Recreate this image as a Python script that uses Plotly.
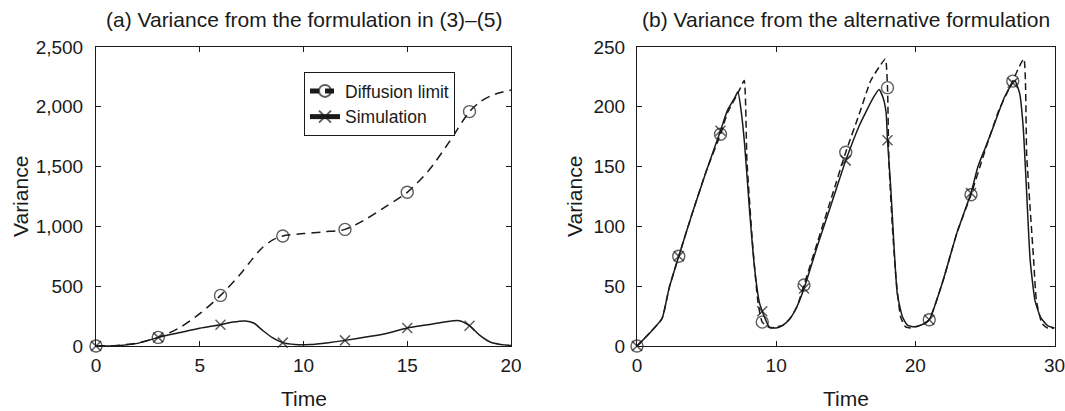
import plotly.graph_objects as go

# ---------------- data: panel (a) ----------------
mark_times_a = [0, 3, 6, 9, 12, 15, 18]

t_diff_a = [0, 1, 2, 3, 4, 5, 6, 7, 7.5, 8, 8.5, 9, 10, 11, 12, 13, 14, 15, 16, 17, 18, 18.5, 19, 19.5, 20]
v_diff_a = [0, 5, 25, 72, 150, 270, 423, 610, 720, 820, 885, 920, 940, 955, 975, 1060, 1170, 1285, 1460, 1700, 1960, 2040, 2090, 2120, 2140]

t_sim_a = [0, 1, 2, 3, 4, 5, 6, 6.6, 7.2, 7.6, 8, 8.5, 9, 9.6, 10.3, 11.2, 12, 13, 14, 15, 16, 16.8, 17.5, 18, 18.5, 19, 19.5, 20]
v_sim_a = [0, 3, 22, 72, 110, 148, 178, 200, 209, 192, 135, 70, 28, 12, 12, 28, 47, 75, 105, 150, 178, 200, 212, 170, 89, 33, 12, 5]

# ---------------- data: panel (b) ----------------
mark_times_b = [0, 3, 6, 9, 12, 15, 18, 21, 24, 27]

t_diff_b = [0, 1, 1.8, 2.3, 3, 4, 5, 6, 6.5, 7, 7.4, 7.7, 7.9, 8.3, 8.7, 9, 9.6, 10, 10.5, 11, 11.5, 12,
            13, 14, 15, 16, 16.8, 17.5, 17.85, 18, 18.1, 18.35, 18.6, 18.95, 19.3, 19.8, 20, 20.5, 21,
            22, 23, 24, 25, 26, 27, 27.4, 27.8, 28, 28.25, 28.5, 28.7, 29.1, 29.5, 30]
v_diff_b = [0, 12, 23, 48, 75, 112, 147, 177, 195, 206, 215, 222, 155, 86, 36, 20, 15, 16, 17.5, 23, 33, 51,
            88, 125, 162, 195, 222, 235, 240, 216, 155, 100, 58, 24, 16, 15, 16, 18, 22,
            55, 95, 126.5, 163, 197, 221.5, 232, 240, 160, 115, 72, 38, 19, 15, 15]

t_sim_b = [0, 1, 1.8, 2.3, 3, 4, 5, 6, 6.5, 7, 7.25, 7.5, 7.73, 8.09, 8.44, 8.8, 9, 9.5, 10, 10.5, 11, 11.5, 12,
           13, 14, 15, 16, 17, 17.4, 17.7, 17.9, 18, 18.23, 18.47, 18.7, 19.07, 19.43, 19.9, 20.4, 21,
           22, 22.5, 23, 24, 24.5, 25, 25.6, 26.4, 27, 27.15, 27.5, 27.75, 28, 28.25, 28.6, 29, 29.5, 30]
v_sim_b = [0, 12, 23, 48, 75, 112, 147, 180, 197, 207, 212.5, 195, 169, 113, 66, 36, 29, 16, 15, 17.5, 23, 33, 48,
           85, 120, 155, 185, 208, 214.5, 207, 195, 172, 133, 83, 44, 24.5, 17.5, 16, 17.5, 22,
           55, 75, 95, 128, 150, 165, 183, 208, 220, 222, 211, 183, 128, 72, 38, 24, 17, 15]

x_ticks_a = [0, 5, 10, 15, 20]
y_ticks_a = [0, 500, 1000, 1500, 2000, 2500]
x_ticks_b = [0, 10, 20, 30]
y_ticks_b = [0, 50, 100, 150, 200, 250]

titles = ["(a) Variance from the formulation in (3)\u2013(5)", "(b) Variance from the alternative formulation"]
series_names = ["Diffusion limit", "Simulation"]
x_title = "Time"
y_title = "Variance"

INK = "#1a1a1a"
FONT = "Liberation Sans, Arial, Helvetica, sans-serif"
W, H = 1065, 411

# pixel layout of the two panels
AX_A = (96, 511)
AX_B = (637, 1054.5)
TOP, BOT = 47, 346


def sizes(ts, marks, s):
    return [s if t in marks else 0 for t in ts]


fig = go.Figure()

# panel (a)
fig.add_trace(go.Scatter(
    x=t_diff_a, y=v_diff_a, name=series_names[0], mode="lines+markers", cliponaxis=False,
    line=dict(color=INK, width=1.5, dash="9px,6px", shape="spline", smoothing=0.8),
    marker=dict(symbol="circle-open", size=sizes(t_diff_a, mark_times_a, 12), color=INK, line=dict(width=1.4)),
    xaxis="x", yaxis="y"))
fig.add_trace(go.Scatter(
    x=t_sim_a, y=v_sim_a, name=series_names[1], mode="lines+markers", cliponaxis=False,
    line=dict(color=INK, width=1.5, shape="spline", smoothing=0.8),
    marker=dict(symbol="x-thin-open", size=sizes(t_sim_a, mark_times_a, 10), color=INK, line=dict(width=1.5)),
    xaxis="x", yaxis="y"))

# panel (b)
fig.add_trace(go.Scatter(
    x=t_diff_b, y=v_diff_b, name=series_names[0], mode="lines+markers", showlegend=False, cliponaxis=False,
    line=dict(color=INK, width=1.5, dash="7px,4px", shape="spline", smoothing=0.5),
    marker=dict(symbol="circle-open", size=sizes(t_diff_b, mark_times_b, 12), color=INK, line=dict(width=1.4)),
    xaxis="x2", yaxis="y2"))
fig.add_trace(go.Scatter(
    x=t_sim_b, y=v_sim_b, name=series_names[1], mode="lines+markers", showlegend=False, cliponaxis=False,
    line=dict(color=INK, width=1.5, shape="spline", smoothing=0.5),
    marker=dict(symbol="x-thin-open", size=sizes(t_sim_b, mark_times_b, 10), color=INK, line=dict(width=1.5)),
    xaxis="x2", yaxis="y2"))

axis_common = dict(showline=True, linecolor=INK, linewidth=1, mirror="allticks", ticks="inside",
                   ticklen=5, tickcolor=INK, showgrid=False, zeroline=False, automargin=False,
                   ticklabeloverflow="allow",
                   tickfont=dict(size=19, color=INK, family=FONT))

y_dom = [1 - BOT / H, 1 - TOP / H]


def px_x(p):
    return p / W


def px_y(p):
    return 1 - p / H


annotations = []
for i, (l, r) in enumerate([AX_A, AX_B]):
    cx = (l + r) / 2
    annotations.append(dict(text=titles[i], x=px_x(cx), y=px_y(19), xref="paper", yref="paper",
                            showarrow=False, xanchor="center", yanchor="middle",
                            font=dict(size=21, color=INK, family=FONT)))
    annotations.append(dict(text=x_title, x=px_x(cx), y=px_y(398), xref="paper", yref="paper",
                            showarrow=False, xanchor="center", yanchor="middle",
                            font=dict(size=21, color=INK, family=FONT)))
annotations.append(dict(text=y_title, x=px_x(20), y=px_y(197), xref="paper", yref="paper", textangle=-90,
                        showarrow=False, xanchor="center", yanchor="middle",
                        font=dict(size=21, color=INK, family=FONT)))
annotations.append(dict(text=y_title, x=px_x(574), y=px_y(197), xref="paper", yref="paper", textangle=-90,
                        showarrow=False, xanchor="center", yanchor="middle",
                        font=dict(size=21, color=INK, family=FONT)))

fig.update_layout(
    width=W, height=H,
    margin=dict(l=0, r=0, t=0, b=0, autoexpand=False),
    paper_bgcolor="white", plot_bgcolor="white",
    font=dict(family=FONT, color=INK, size=19),
    showlegend=True,
    legend=dict(x=px_x(304), y=px_y(72), xanchor="left", yanchor="top",
                bordercolor=INK, borderwidth=1, bgcolor="white",
                font=dict(size=17.5, color=INK, family=FONT),
                itemsizing="constant", tracegroupgap=0, itemwidth=30),
    xaxis=dict(domain=[px_x(AX_A[0]), px_x(AX_A[1])], range=[0, 20], tickvals=x_ticks_a,
               anchor="y", ticklabelstandoff=2, **axis_common),
    yaxis=dict(domain=y_dom, range=[0, 2500], tickvals=y_ticks_a, tickformat=",",
               anchor="x", ticklabelstandoff=8, **axis_common),
    xaxis2=dict(domain=[px_x(AX_B[0]), px_x(AX_B[1])], range=[0, 30], tickvals=x_ticks_b,
                anchor="y2", ticklabelstandoff=2, **axis_common),
    yaxis2=dict(domain=y_dom, range=[0, 250], tickvals=y_ticks_b,
                anchor="x2", ticklabelstandoff=7, **axis_common),
    annotations=annotations,
)

fig.write_html("out.html", config={"displayModeBar": False},
               post_script="document.body.style.margin='0px';document.body.style.overflow='hidden';")
